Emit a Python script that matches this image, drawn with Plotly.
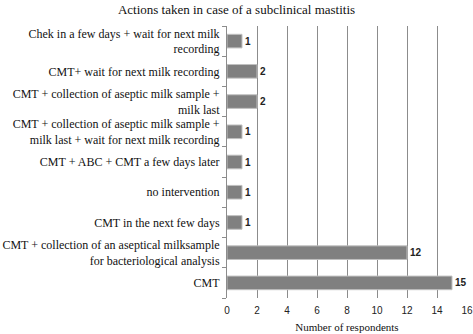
import plotly.graph_objects as go

categories = [
    "CMT",
    "CMT + collection of an aseptical milksample<br>for bacteriological analysis",
    "CMT in the next few days",
    "no intervention",
    "CMT + ABC + CMT a few days later",
    "CMT + collection of aseptic milk sample +<br>milk last + wait for next milk recording",
    "CMT + collection of aseptic milk sample +<br>milk last",
    "CMT+ wait for next milk recording",
    "Chek in a few days + wait for next milk<br>recording",
]
values = [15, 12, 1, 1, 1, 1, 2, 2, 1]
x_ticks = [0, 2, 4, 6, 8, 10, 12, 14, 16]

SERIF = "Times New Roman, Liberation Serif, DejaVu Serif, serif"
SANS = "Liberation Sans, Arial, sans-serif"

fig = go.Figure(go.Bar(
    x=values, y=categories, orientation="h",
    marker=dict(color="#808080", line=dict(color="#c0c0c0", width=1)),
    width=0.45,
    text=[f"<b>{v}</b>" for v in values], textposition="outside",
    textfont=dict(family=SANS, size=10, color="#222"),
    cliponaxis=False,
))

fig.update_layout(
    width=473, height=334,
    margin=dict(l=227, r=6, t=26, b=36, autoexpand=False),
    paper_bgcolor="white", plot_bgcolor="white",
    title=dict(text="Actions taken in case of a subclinical mastitis",
               x=0.5, xanchor="center", y=0.985, yanchor="top",
               font=dict(family=SERIF, size=13, color="#111")),
    showlegend=False,
)
fig.update_xaxes(
    range=[0, 16], tickvals=x_ticks, showgrid=True, gridcolor="#8c8c8c", gridwidth=1,
    zeroline=False, showline=False, automargin=False,
    ticklabelstandoff=5,
    tickfont=dict(family=SANS, size=10, color="#222"),
    title=dict(text="Number of respondents", standoff=8,
               font=dict(family=SERIF, size=11, color="#111")),
)
fig.update_yaxes(
    showline=True, linecolor="#8c8c8c", linewidth=1, automargin=False,
    ticks="outside", tickson="boundaries", ticklen=4, tickcolor="#8c8c8c",
    ticklabelstandoff=4,
    tickfont=dict(family=SERIF, size=12, color="#111"),
    showgrid=False,
)
fig.write_html("out.html", config={"displayModeBar": False},
               post_script="document.body.style.margin='0';")
